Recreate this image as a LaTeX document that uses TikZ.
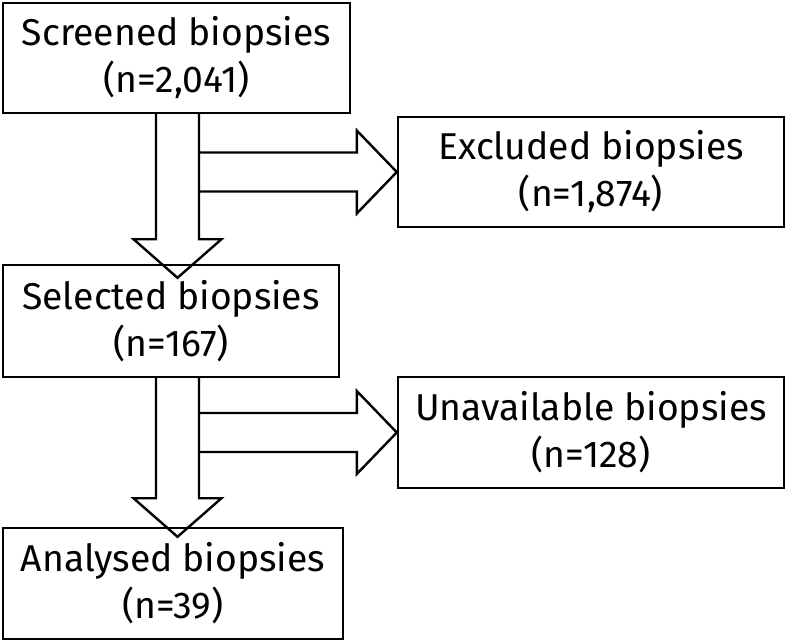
\documentclass[tikz,border=0pt]{standalone}
\usepackage{fontspec}
\setmainfont{Fira Sans}
\usepackage{tikz}
\usetikzlibrary{calc}

\tikzset{
  box/.style={draw, line width=1.8pt, rectangle, align=center, inner sep=0pt,
    font=\fontsize{28}{35.25}\selectfont},
  blockarrow/.style={draw, line width=1.8pt, line join=miter}
}

\begin{document}
\begin{tikzpicture}[x=0.75pt,y=0.75pt,yscale=-1,xscale=1]
%set diagram left start at 0, and has height of 643
\useasboundingbox (0,0) rectangle (787,643);

%Shape: Rectangle [screened]
\node[box, minimum width=260.25pt, minimum height=82.5pt] (screened) at (176.5,58) {Screened biopsies\\(n=2,041)};
%Shape: Rectangle [excluded]
\node[box, minimum width=289.5pt, minimum height=82.5pt] (excluded) at (591,172) {Excluded biopsies\\(n=1,874)};
%Shape: Rectangle [selected]
\node[box, minimum width=252pt, minimum height=84pt] (selected) at (171,321) {Selected biopsies\\(n=167)};
%Shape: Rectangle [unavailable]
\node[box, minimum width=289.5pt, minimum height=83.25pt] (unavailable) at (591,432.5) {Unavailable biopsies\\(n=128)};
%Shape: Rectangle [analysed]
\node[box, minimum width=255pt, minimum height=83.25pt] (analysed) at (173,583.5) {Analysed biopsies\\(n=39)};

%shaft of the down arrows
\coordinate (spine) at (177.5,0);

%Shape: Down Arrow [screened -> selected]
\draw[blockarrow] ($(screened.south -| spine)+(-21.5,0)$) -- ++(0,125) -- ++(-22.5,0) -- ($(selected.north -| spine)+(0,14)$) -- ($(screened.south -| spine)+(44,125)$) -- ++(-22.5,0) -- ($(screened.south -| spine)+(21.5,0)$);
%Shape: Right Arrow [-> excluded]
\draw[blockarrow] ($(excluded.west -| spine)+(21.5,-19.5)$) -- ($(excluded.west)+(-40,-19.5)$) -- ++(0,-22) -- (excluded.west) -- ($(excluded.west)+(-40,41.5)$) -- ++(0,-22) -- ($(excluded.west -| spine)+(21.5,19.5)$);

%Shape: Down Arrow [selected -> analysed]
\draw[blockarrow] ($(selected.south -| spine)+(-21.5,0)$) -- ++(0,120) -- ++(-22.5,0) -- ($(analysed.north -| spine)+(0,10)$) -- ($(selected.south -| spine)+(44,120)$) -- ++(-22.5,0) -- ($(selected.south -| spine)+(21.5,0)$);
%Shape: Right Arrow [-> unavailable]
\draw[blockarrow] ($(unavailable.west -| spine)+(21.5,-19.5)$) -- ($(unavailable.west)+(-40,-19.5)$) -- ++(0,-22) -- (unavailable.west) -- ($(unavailable.west)+(-40,41.5)$) -- ++(0,-22) -- ($(unavailable.west -| spine)+(21.5,19.5)$);
\end{tikzpicture}
\end{document}
